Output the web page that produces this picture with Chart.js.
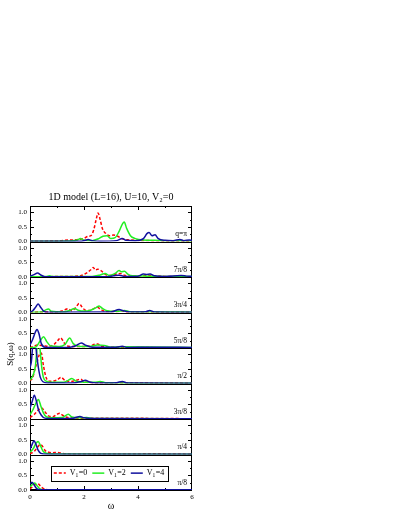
<!DOCTYPE html>
<html>
<head>
<meta charset="utf-8">
<script src="https://cdn.jsdelivr.net/npm/chart.js@4.4.1/dist/chart.umd.min.js"></script>
<style>
html,body{margin:0;padding:0;background:#fff;}
#wrap{position:absolute;left:0;top:0;width:398px;height:515px;}
</style>
</head>
<body>
<div id="wrap"><canvas id="c" width="398" height="515"></canvas></div>
<script>
// panels from top to bottom, q = k*pi/8
const panelLabels = ["q=π", "7π/8", "3π/4", "5π/8", "π/2", "3π/8", "π/4", "π/8"];
const seriesLabels = ["V1=0", "V1=2", "V1=4"];
const xTicks = [0, 2, 4, 6];

// [omega, S]
const s8v0 = [[0,0.01],[1.0,0.02],[1.45,0.05],[1.7,0.06],[2.0,0.11],[2.15,0.18],[2.26,0.2],[2.36,0.4],[2.45,0.75],[2.52,0.98],[2.6,0.75],[2.68,0.45],[2.8,0.28],[2.95,0.2],[3.1,0.22],[3.25,0.18],[3.4,0.1],[3.6,0.06],[4.0,0.04],[4.5,0.03],[5.0,0.02],[6,0.01]];
const s8v2 = [[0,0.01],[1.5,0.02],[1.75,0.05],[1.87,0.1],[2.0,0.04],[2.3,0.03],[2.55,0.1],[2.7,0.18],[2.85,0.2],[3.0,0.1],[3.15,0.13],[3.3,0.35],[3.42,0.6],[3.49,0.67],[3.58,0.45],[3.72,0.2],[3.9,0.1],[4.2,0.05],[4.6,0.04],[5.0,0.03],[6,0.02]];
const s8v4 = [[0,0.01],[1.9,0.01],[2.05,0.04],[2.15,0.07],[2.3,0.03],[2.6,0.01],[3.2,0.03],[3.42,0.1],[3.55,0.04],[3.9,0.03],[4.2,0.1],[4.33,0.27],[4.41,0.31],[4.52,0.2],[4.63,0.23],[4.75,0.1],[5.0,0.04],[5.3,0.03],[5.55,0.07],[5.7,0.03],[5.9,0.05],[6,0.04]];

const s7v0 = [[0,0.01],[1.5,0.02],[1.9,0.05],[2.1,0.14],[2.25,0.25],[2.34,0.33],[2.42,0.24],[2.5,0.27],[2.6,0.24],[2.68,0.18],[2.8,0.08],[3.0,0.05],[3.2,0.1],[3.35,0.12],[3.5,0.06],[3.8,0.03],[4.45,0.05],[5.0,0.02],[6,0.01]];
const s7v2 = [[0,0.01],[0.6,0.02],[0.72,0.04],[0.85,0.02],[2.3,0.02],[2.6,0.07],[2.78,0.12],[2.95,0.05],[3.15,0.12],[3.3,0.22],[3.38,0.18],[3.5,0.2],[3.62,0.1],[3.8,0.04],[4.3,0.03],[5.0,0.02],[6,0.02]];
const s7v4 = [[0,0.03],[0.15,0.08],[0.28,0.14],[0.4,0.07],[0.55,0.01],[2.8,0.01],[3.1,0.04],[3.3,0.06],[3.5,0.02],[4.0,0.03],[4.2,0.1],[4.32,0.09],[4.45,0.1],[4.6,0.04],[5.0,0.02],[5.6,0.05],[5.8,0.03],[6,0.02]];

const s6v0 = [[0,0.01],[0.8,0.02],[1.1,0.03],[1.3,0.1],[1.4,0.13],[1.55,0.06],[1.7,0.18],[1.82,0.31],[1.92,0.2],[2.05,0.08],[2.2,0.07],[2.4,0.15],[2.5,0.18],[2.62,0.1],[2.8,0.04],[3.2,0.03],[3.4,0.06],[3.6,0.02],[6,0.01]];
const s6v2 = [[0,0.01],[0.45,0.02],[0.6,0.1],[0.68,0.12],[0.8,0.04],[1.2,0.02],[1.45,0.06],[1.65,0.14],[1.78,0.08],[2.0,0.05],[2.25,0.08],[2.45,0.17],[2.56,0.22],[2.68,0.14],[2.85,0.06],[3.2,0.04],[3.5,0.07],[3.7,0.03],[4.5,0.02],[6,0.01]];
const s6v4 = [[0,0.01],[0.1,0.06],[0.22,0.2],[0.3,0.29],[0.38,0.2],[0.5,0.05],[0.65,0.01],[3.0,0.02],[3.3,0.1],[3.45,0.06],[3.7,0.02],[4.3,0.03],[4.43,0.07],[4.6,0.02],[6,0.01]];

const s5v0 = [[0,0.01],[0.3,0.1],[0.5,0.08],[0.7,0.06],[0.9,0.13],[1.05,0.28],[1.13,0.35],[1.22,0.25],[1.35,0.07],[1.6,0.05],[2.2,0.06],[2.4,0.13],[2.5,0.14],[2.65,0.06],[3.0,0.03],[3.45,0.02],[6,0.01]];
const s5v2 = [[0,0.01],[0.2,0.03],[0.38,0.25],[0.5,0.39],[0.62,0.22],[0.75,0.08],[0.9,0.06],[1.1,0.05],[1.3,0.13],[1.47,0.34],[1.6,0.15],[1.8,0.06],[2.2,0.05],[2.5,0.1],[2.75,0.09],[3.0,0.03],[3.5,0.04],[6,0.02]];
const s5v4 = [[0,0.1],[0.1,0.3],[0.2,0.55],[0.26,0.64],[0.33,0.5],[0.42,0.15],[0.55,0.03],[1.4,0.02],[1.7,0.08],[1.9,0.17],[2.05,0.1],[2.3,0.03],[3.2,0.03],[3.42,0.06],[3.6,0.02],[4.5,0.03],[6,0.02]];

const s4v0 = [[0,0.1],[0.1,0.2],[0.17,0.45],[0.25,0.7],[0.35,1.0],[0.42,1.05],[0.5,0.6],[0.6,0.2],[0.75,0.08],[1.0,0.12],[1.15,0.21],[1.3,0.1],[1.5,0.07],[1.75,0.12],[1.88,0.15],[2.0,0.06],[2.3,0.03],[2.6,0.03],[6,0.01]];
const s4v2 = [[0,0.12],[0.1,0.25],[0.2,0.6],[0.26,1.2],[0.32,1.5],[0.37,1.2],[0.43,0.6],[0.5,0.2],[0.6,0.08],[0.8,0.04],[1.2,0.04],[1.4,0.1],[1.55,0.17],[1.7,0.08],[1.9,0.05],[2.4,0.04],[2.6,0.07],[2.8,0.03],[6,0.01]];
const s4v4 = [[0,0.55],[0.05,0.75],[0.1,1.3],[0.15,1.6],[0.2,1.4],[0.26,0.9],[0.31,0.55],[0.38,0.22],[0.48,0.06],[0.65,0.02],[1.7,0.03],[1.9,0.07],[2.05,0.11],[2.2,0.05],[2.5,0.02],[3.2,0.03],[3.42,0.07],[3.6,0.02],[6,0.01]];

const s3v0 = [[0,0.05],[0.15,0.15],[0.3,0.3],[0.43,0.38],[0.55,0.25],[0.7,0.1],[0.85,0.08],[1.0,0.16],[1.1,0.2],[1.22,0.12],[1.4,0.05],[1.8,0.03],[2.5,0.03],[6,0.01]];
const s3v2 = [[0,0.15],[0.1,0.3],[0.22,0.55],[0.31,0.67],[0.4,0.45],[0.5,0.2],[0.6,0.08],[0.8,0.04],[1.2,0.05],[1.42,0.16],[1.55,0.07],[1.8,0.04],[2.1,0.05],[2.3,0.02],[6,0.01]];
const s3v4 = [[0,0.38],[0.08,0.6],[0.16,0.82],[0.24,0.6],[0.32,0.3],[0.42,0.13],[0.55,0.03],[0.8,0.02],[1.6,0.03],[1.85,0.09],[2.0,0.04],[2.4,0.02],[6,0.01]];

const s2v0 = [[0,0.03],[0.15,0.1],[0.28,0.25],[0.38,0.34],[0.45,0.3],[0.55,0.15],[0.68,0.08],[0.85,0.06],[1.0,0.07],[1.2,0.04],[1.6,0.02],[4.0,0.02],[4.5,0.03],[5,0.02],[6,0.01]];
const s2v2 = [[0,0.08],[0.12,0.2],[0.22,0.38],[0.3,0.45],[0.38,0.32],[0.48,0.12],[0.6,0.04],[0.9,0.02],[6,0.01]];
const s2v4 = [[0,0.18],[0.08,0.35],[0.15,0.47],[0.22,0.35],[0.3,0.15],[0.4,0.04],[0.6,0.01],[6,0.01]];

const s1v0 = [[0,0.04],[0.15,0.15],[0.25,0.22],[0.32,0.2],[0.42,0.1],[0.55,0.03],[0.8,0.01],[6,0.01]];
const s1v2 = [[0,0.1],[0.1,0.2],[0.18,0.24],[0.26,0.15],[0.35,0.05],[0.5,0.01],[6,0.01]];
const s1v4 = [[0,0.2],[0.07,0.27],[0.14,0.2],[0.22,0.08],[0.3,0.02],[0.5,0.01],[6,0.01]];

const panelData = [
  [s8v0, s8v2, s8v4], [s7v0, s7v2, s7v4], [s6v0, s6v2, s6v4], [s5v0, s5v2, s5v4],
  [s4v0, s4v2, s4v4], [s3v0, s3v2, s3v4], [s2v0, s2v2, s2v4], [s1v0, s1v2, s1v4]
];

const colors = ["#ff0000", "#22ee22", "#10109e"];
const FONT = "'Liberation Serif', 'DejaVu Serif', serif";

const datasets = [];
const scales = {
  x: {
    type: "linear", position: "bottom", min: 0, max: 6,
    ticks: {
      stepSize: 1, autoSkip: false, color: "#000", padding: 3,
      font: { family: FONT, size: 7 },
      callback: v => xTicks.includes(v) ? String(v) : ""
    },
    grid: { display: false, drawTicks: false }, border: { display: false },
    title: { display: true, text: "ω", color: "#000", font: { family: FONT, size: 10 }, padding: { top: 0, bottom: 3 } },
    afterFit: s => { s.height = 25; }
  }
};

// axes listed bottom panel first; higher weight goes on top of the stack
for (let i = panelLabels.length - 1; i >= 0; i--) {
  scales["y" + i] = {
    type: "linear", position: "left", stack: "panels", stackWeight: 1,
    weight: panelLabels.length - i,
    min: 0, max: 1.22,
    ticks: {
      stepSize: 0.25, includeBounds: false, autoSkip: false, color: "#000", padding: 3,
      font: { family: FONT, size: 7 },
      callback: v => Math.abs(v * 2 - Math.round(v * 2)) < 1e-6 ? v.toFixed(1) : ""
    },
    grid: { display: false, drawTicks: false }, border: { display: false },
    afterFit: s => { s.width = 26; }
  };
}

panelData.forEach((ser, i) => {
  ser.forEach((d, j) => {
    datasets.push({
      label: seriesLabels[j],
      data: d,
      yAxisID: "y" + i,
      xAxisID: "x",
      borderColor: colors[j],
      borderWidth: 1.5,
      borderDash: j === 0 ? [3, 2] : [],
      pointRadius: 0,
      fill: false,
      cubicInterpolationMode: "monotone",
      order: 3 - j
    });
  });
});

const framePlugin = {
  id: "frames",
  beforeDatasetsDraw(chart) {
    const ctx = chart.ctx, a = chart.chartArea;
    ctx.save();
    ctx.strokeStyle = "#000";
    ctx.lineWidth = 1;
    ctx.strokeRect(a.left + 0.5, a.top + 0.5, a.width - 1, a.height - 1);
    for (let i = 0; i < panelLabels.length; i++) {
      const s = chart.scales["y" + i];
      const y0 = Math.round(s.getPixelForValue(0)) + 0.5;
      ctx.beginPath(); ctx.moveTo(a.left, y0); ctx.lineTo(a.right, y0); ctx.stroke();
      s.ticks.forEach(t => {
        if (t.value === 0) return;
        const y = Math.round(s.getPixelForValue(t.value)) + 0.5;
        const len = Math.abs(t.value * 2 - Math.round(t.value * 2)) < 1e-6 ? 4 : 2;
        ctx.beginPath();
        ctx.moveTo(a.left, y); ctx.lineTo(a.left + len, y);
        ctx.moveTo(a.right, y); ctx.lineTo(a.right - len, y);
        ctx.stroke();
      });
    }
    const xs = chart.scales.x;
    xs.ticks.forEach(t => {
      if (t.value <= 0 || t.value >= 6) return;
      const x = Math.round(xs.getPixelForValue(t.value)) + 0.5;
      const len = t.value % 2 === 0 ? 4 : 2;
      ctx.beginPath();
      ctx.moveTo(x, a.top); ctx.lineTo(x, a.top + len);
      ctx.moveTo(x, a.bottom); ctx.lineTo(x, a.bottom - len);
      ctx.stroke();
    });
    ctx.restore();
  },
  beforeDatasetDraw(chart, args) {
    const ys = args.meta.yScale, a = chart.chartArea, ctx = chart.ctx;
    ctx.save();
    ctx.beginPath();
    ctx.rect(a.left, ys.top, a.width, ys.bottom - ys.top + 1);
    ctx.clip();
  },
  afterDatasetDraw(chart) {
    chart.ctx.restore();
  },
  afterDraw(chart) {
    const ctx = chart.ctx, a = chart.chartArea;
    ctx.save();
    ctx.fillStyle = "#000";
    // panel labels
    ctx.font = "7.5px " + FONT;
    ctx.textAlign = "right";
    ctx.textBaseline = "middle";
    panelLabels.forEach((lab, i) => {
      const s = chart.scales["y" + i];
      ctx.fillText(lab, a.right - 5, s.getPixelForValue(0.24));
    });
    // y axis title
    ctx.save();
    ctx.translate(10.5, 354);
    ctx.rotate(-Math.PI / 2);
    ctx.textAlign = "center";
    ctx.font = "9px " + FONT;
    ctx.fillText("S(q,ω)", 0, 0);
    ctx.restore();
    // legend in the bottom panel
    const xs = chart.scales.x, yl = chart.scales["y7"];
    const L = xs.getPixelForValue(0.77), R = xs.getPixelForValue(5.1);
    const T = yl.getPixelForValue(0.84), B = yl.getPixelForValue(0.32);
    ctx.fillStyle = "#fff";
    ctx.fillRect(L, T, R - L, B - T);
    ctx.strokeStyle = "#000";
    ctx.lineWidth = 1;
    ctx.strokeRect(Math.round(L) + 0.5, Math.round(T) + 0.5, Math.round(R - L), Math.round(B - T));
    const cy = (T + B) / 2;
    chart.data.datasets.slice(0, 3).forEach((ds, j) => {
      const sx = L + 3 + j * 38.5;
      ctx.strokeStyle = ds.borderColor;
      ctx.lineWidth = 1.5;
      ctx.setLineDash(ds.borderDash);
      ctx.beginPath(); ctx.moveTo(sx, cy); ctx.lineTo(sx + 12, cy); ctx.stroke();
      ctx.setLineDash([]);
      ctx.fillStyle = "#000";
      ctx.textAlign = "left";
      ctx.textBaseline = "middle";
      let tx = sx + 16;
      ctx.font = "8px " + FONT;
      ctx.fillText("V", tx, cy);
      tx += ctx.measureText("V").width;
      ctx.font = "5.5px " + FONT;
      ctx.fillText(ds.label.charAt(1), tx, cy + 2);
      tx += ctx.measureText(ds.label.charAt(1)).width + 0.5;
      ctx.font = "8px " + FONT;
      ctx.fillText(ds.label.slice(2), tx, cy);
    });
    ctx.restore();
  }
};

new Chart(document.getElementById("c"), {
  type: "line",
  data: { datasets: datasets },
  options: {
    responsive: false,
    animation: false,
    devicePixelRatio: 1,
    layout: { padding: { top: 191, left: 4, right: 206, bottom: 0 } },
    plugins: {
      legend: { display: false },
      tooltip: { enabled: false },
      title: {
        display: true, fullSize: false, color: "#000",
        text: "1D model (L=16), U=10, V₂=0",
        font: { family: FONT, size: 10, weight: "normal" },
        padding: { top: 0, bottom: 3 }
      }
    },
    scales: scales
  },
  plugins: [framePlugin]
});
</script>
</body>
</html>
